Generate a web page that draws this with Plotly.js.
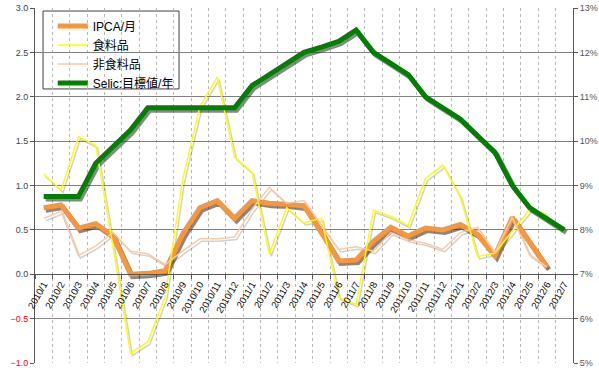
<!DOCTYPE html>
<html>
<head>
<meta charset="utf-8">
<script src="https://cdn.plot.ly/plotly-3.0.1.min.js"></script>
<style>html,body{margin:0;padding:0;background:#fff;}#chart{width:599px;height:371px;}</style>
</head>
<body>
<div id="chart"></div>
<script>
const categories = ['2010/1','2010/2','2010/3','2010/4','2010/5','2010/6','2010/7','2010/8','2010/9','2010/10','2010/11','2010/12',
  '2011/1','2011/2','2011/3','2011/4','2011/5','2011/6','2011/7','2011/8','2011/9','2011/10','2011/11','2011/12',
  '2012/1','2012/2','2012/3','2012/4','2012/5','2012/6','2012/7'];
const ipca = [0.75,0.78,0.52,0.57,0.43,0.00,0.01,0.04,0.45,0.75,0.83,0.63,
  0.83,0.80,0.79,0.77,0.47,0.15,0.16,0.37,0.53,0.43,0.52,0.50,
  0.56,0.45,0.21,0.64,0.36,0.08,null];
const food = [1.13,0.95,1.55,1.45,0.30,-0.89,-0.76,-0.25,1.06,1.89,2.22,1.32,
  1.15,0.23,0.75,0.58,0.63,-0.26,-0.34,0.72,0.65,0.55,1.08,1.23,
  0.87,0.20,0.24,0.49,0.73,0.68,null];
const nonfood = [0.63,0.71,0.21,0.32,0.47,0.26,0.23,0.11,0.26,0.40,0.40,0.42,
  0.73,0.98,0.80,0.83,0.55,0.28,0.31,0.26,0.47,0.39,0.35,0.28,
  0.47,0.53,0.24,0.64,0.22,0.08,null];
const selic = [8.75,8.75,8.75,9.5,9.88,10.25,10.75,10.75,10.75,10.75,10.75,10.75,
  11.25,11.5,11.75,12.0,12.12,12.25,12.5,12.0,11.75,11.5,11.0,10.75,
  10.5,10.12,9.75,9.0,8.5,8.25,8.0];
const leftTicks = [0,0.5,1.0,1.5,2.0,2.5];
const topTick = [3.0];
const negTicks = [-1.0,-0.5];
const names = ['IPCA/月','食料品','非食料品','Selic:目標値/年'];

const FONT = 'Liberation Sans, Arial, Noto Sans CJK JP, sans-serif';
const shadowDark = 'rgba(55,55,55,0.6)';
const shadowLight = 'rgba(120,120,120,0.35)';
const DX = 0.115, DYL = 0.028, DYR = 0.056;

const traces = [
  {x:categories, y:categories.map(() => null), mode:'lines', showlegend:false, hoverinfo:'skip'},
  {x:categories, y:food, xaxis:'x2', yaxis:'y2', mode:'lines', line:{color:shadowLight, width:1.5}, showlegend:false, hoverinfo:'skip'},
  {x:categories, y:nonfood, xaxis:'x2', yaxis:'y2', mode:'lines', line:{color:shadowLight, width:1.5}, showlegend:false, hoverinfo:'skip'},
  {x:categories, y:ipca, xaxis:'x2', yaxis:'y2', mode:'lines', line:{color:shadowDark, width:5}, showlegend:false, hoverinfo:'skip'},
  {x:categories, y:selic, xaxis:'x2', yaxis:'y3', mode:'lines', line:{color:shadowDark, width:5}, showlegend:false, hoverinfo:'skip'},
  {x:categories, y:ipca, name:names[0], legendgroup:'a', xaxis:'x3', yaxis:'y4', mode:'lines', line:{color:'#f7963c', width:5}},
  {x:categories, y:food, name:names[1], legendgroup:'b', xaxis:'x3', yaxis:'y4', mode:'lines', line:{color:'#ffff00', width:1.5}},
  {x:categories, y:nonfood, name:names[2], legendgroup:'c', xaxis:'x3', yaxis:'y4', mode:'lines', line:{color:'#fcc9a0', width:1.5}},
  {x:categories, y:selic, name:names[3], legendgroup:'d', xaxis:'x3', yaxis:'y5', mode:'lines', line:{color:'#008000', width:5}},
  {x:categories, y:categories.map(() => null), xaxis:'x3', yaxis:'y6', mode:'lines', showlegend:false, hoverinfo:'skip'}
];

const layout = {
  width:599, height:371,
  margin:{l:35, r:26, t:8, b:8, pad:0},
  paper_bgcolor:'#fff', plot_bgcolor:'#fff',
  font:{family:FONT, size:9, color:'#333'},
  showlegend:true,
  legend:{x:0.033, y:0.99, xanchor:'left', yanchor:'top', bgcolor:'rgba(0,0,0,0)', borderwidth:0,
    tracegroupgap:2, traceorder:'normal',
    font:{family:FONT, size:12, color:'#000'}},
  xaxis:{type:'category', range:[-0.5,30.5], anchor:'free', position:0.25,
    categoryorder:'array', categoryarray:categories,
    tickson:'boundaries', ticks:'outside', ticklen:4, tickcolor:'#555',
    showgrid:true, gridcolor:'#b8b8b8', griddash:'dot', gridwidth:1,
    showline:true, linecolor:'#555', linewidth:1,
    tickangle:-60, tickfont:{family:FONT, size:9.5, color:'#000'}, zeroline:false},
  xaxis2:{type:'category', overlaying:'x', range:[-0.5-DX, 30.5-DX], visible:false},
  xaxis3:{type:'category', overlaying:'x', range:[-0.5, 30.5], visible:false},
  yaxis:{range:[-1,3], tickmode:'array', tickvals:leftTicks, tickformat:'.1f', ticksuffix:'%',
    showgrid:true, gridcolor:'#808080', gridwidth:1, zeroline:false,
    showline:true, linecolor:'#555', ticks:'outside', ticklen:4, tickcolor:'#555',
    tickfont:{family:FONT, size:9, color:'#444'}},
  yaxis2:{range:[-1+DYL, 3+DYL], overlaying:'y', visible:false},
  yaxis3:{range:[5+DYR, 13+DYR], overlaying:'y', visible:false},
  yaxis4:{range:[-1,3], overlaying:'y', side:'left', tickmode:'array', tickvals:negTicks, tickformat:'.1f', ticksuffix:'%',
    showgrid:true, gridcolor:'#8c8c8c', gridwidth:1, zeroline:false, showline:false,
    ticks:'outside', ticklen:4, tickcolor:'#555', tickfont:{family:FONT, size:9, color:'#ff0000'}},
  yaxis5:{range:[5,13], overlaying:'y', side:'right', dtick:1, ticksuffix:'%', showgrid:false, zeroline:false,
    showline:true, linecolor:'#555', ticks:'outside', ticklen:4, tickcolor:'#555',
    tickfont:{family:FONT, size:9, color:'#555'}},
  yaxis6:{range:[-1,3], overlaying:'y', side:'left', tickmode:'array', tickvals:topTick, tickformat:'.1f', ticksuffix:'%',
    showgrid:true, gridcolor:'#c8c8c8', gridwidth:1, zeroline:false, showline:false,
    ticks:'outside', ticklen:4, tickcolor:'#555', tickfont:{family:FONT, size:9, color:'#444'}},
  shapes:[{type:'rect', xref:'paper', yref:'paper', x0:0.0149, x1:0.2677, y0:0.772, y1:0.9915,
    fillcolor:'#fff', line:{color:'#404040', width:1}, layer:'between'}]
};

Plotly.newPlot('chart', traces, layout, {displayModeBar:false, staticPlot:true});
</script>
</body>
</html>
